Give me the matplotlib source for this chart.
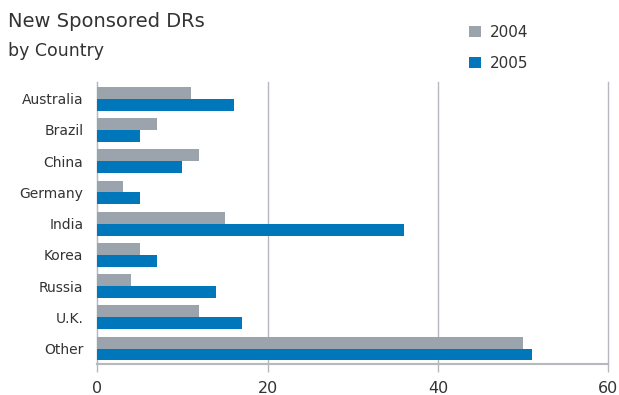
import numpy as np
import matplotlib.pyplot as plt

# data
countries = ["Australia", "Brazil", "China", "Germany", "India", "Korea", "Russia", "U.K.", "Other"]
vals_2004 = [11, 7, 12, 3, 15, 5, 4, 12, 50]
vals_2005 = [16, 5, 10, 5, 36, 7, 14, 17, 51]
xticks = [0, 20, 40, 60]

gray = "#9ba3ad"
blue = "#0077bb"
txt = "#333333"
line = "#b5b9be"

plt.rcParams["font.family"] = ["DejaVu Sans"]

fig = plt.figure(figsize=(6.19, 3.95), dpi=100)
ax = fig.add_axes([0.157, 0.078, 0.826, 0.714])

y = np.arange(len(countries))
h = 0.38
ax.barh(y - h / 2, vals_2004, height=h, color=gray, label="2004", zorder=3)
ax.barh(y + h / 2, vals_2005, height=h, color=blue, label="2005", zorder=3)

ax.set_xlim(0, 60)
ax.set_ylim(8.5, -0.53)
ax.set_xticks(xticks)
ax.set_xticklabels([str(t) for t in xticks], fontsize=11.5, color=txt)
ax.set_yticks(y)
ax.set_yticklabels(countries, fontsize=10, color=txt)
ax.tick_params(axis="y", length=0, pad=10)
ax.tick_params(axis="x", length=6, color=line, width=1, pad=6)
ax.grid(axis="x", color=line, linewidth=1, zorder=0)
for gl in ax.get_xgridlines():
    gl.set_clip_on(False)

for s in ["top", "right"]:
    ax.spines[s].set_visible(False)
ax.spines["bottom"].set_color(line)
ax.spines["bottom"].set_linewidth(1.5)
ax.spines["left"].set_color(line)
ax.spines["left"].set_linewidth(0.8)

fig.text(0.013, 0.945, "New Sponsored DRs", fontsize=14, color=txt, va="center")
fig.text(0.013, 0.872, "by Country", fontsize=12.5, color=txt, va="center")

fig.legend(loc="upper left", bbox_to_anchor=(0.735, 0.972), frameon=False,
           fontsize=11, handlelength=0.8, handleheight=0.8, labelspacing=1.05,
           handletextpad=0.6, labelcolor=txt)

fig.savefig("out.png", dpi=100)
